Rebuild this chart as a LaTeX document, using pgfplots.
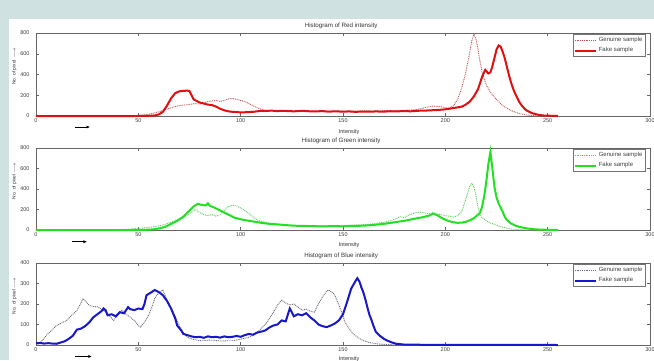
\documentclass[border=0pt]{standalone}
\usepackage{pgfplots}
\pgfplotsset{compat=1.18}
\usepackage{fontspec}
\setmainfont{Liberation Sans}
\usetikzlibrary{arrows.meta}
\definecolor{bgteal}{HTML}{D0E1E1}
\definecolor{redF}{HTML}{E01010}
\definecolor{redG}{HTML}{C05858}
\definecolor{greenF}{HTML}{22E022}
\definecolor{greenG}{HTML}{60CC60}
\definecolor{blueF}{HTML}{1818C8}
\definecolor{blueG}{HTML}{6A6A7C}
\pgfplotsset{
  hist/.style={
    scale only axis, width=614pt, clip=false,
    xmin=0, xmax=300, xtick={0,50,...,300},
    tick align=inside, tick pos=both,
    major tick length=3pt,
    axis line style={black!60}, every tick/.style={black!60},
    xticklabel pos=lower, yticklabel pos=left,
    /pgf/number format/assume math mode=true,
    ticklabel style={font=\fontsize{5.5}{5.5}\selectfont, text=black!75},
    yticklabel style={xshift=-3pt},
    xticklabel style={yshift=1pt},
    title style={at={(axis description cs:0.497,1)}, anchor=south, yshift=-5pt, font=\fontsize{6.2}{6.2}\selectfont, text=black!80},
    xlabel={Intensity},
    xlabel style={at={(axis description cs:0.51,-0.115)}, anchor=north, font=\fontsize{5.5}{5.5}\selectfont, text=black!80},
    ylabel={No. of pixel $\longrightarrow$},
    ylabel style={at={(axis description cs:-0.035,0.6)}, anchor=center, font=\fontsize{4.8}{5}\selectfont, text=black!80},
    legend style={at={(rel axis cs:0.993,0.985)}, anchor=north east,
      font=\fontsize{6}{6.5}\selectfont, draw=black!55, inner sep=1pt,
      row sep=0.3pt, text=black!75},
    legend cell align=left,
    legend image code/.code={\draw[##1] (0pt,0pt) -- (21pt,0pt);},
    gen/.style={line width=0.9pt, dash pattern=on 0.9pt off 0.9pt},
    fak/.style={line width=2pt},
  }
}
\begin{document}
\begin{tikzpicture}[x=1pt,y=1pt]
\useasboundingbox (0,0) rectangle (654,360);
\fill[bgteal] (0,0) rectangle (654,360);
\fill[white] (9,0) rectangle (654,341);

% ---------- RED ----------
\begin{axis}[hist, at={(36pt,244pt)}, anchor=south west, height=83pt,
  ymin=0, ymax=800, ytick={0,200,...,800},
  title={Histogram of Red intensity}]
\addplot[redG, gen] coordinates {
(0,0)(45,0)(50,5)(53,10)(56,20)(60,40)(63,60)(66,80)(70,100)(74,110)(78,120)(80,115)(82,125)(84,140)(86,145)(88,150)(90,140)(92,150)(94,165)(96,170)(98,160)(100,150)(102,140)(104,120)(106,100)(108,80)(110,65)(112,55)(115,50)(118,45)(122,48)(126,45)(130,48)(135,45)(140,47)(145,45)(150,48)(155,46)(160,50)(165,48)(170,52)(175,50)(180,55)(185,60)(188,70)(191,85)(194,95)(197,92)(200,80)(202,75)(204,100)(206,160)(208,270)(210,420)(212,620)(213,730)(214,790)(215,740)(216,640)(217,520)(218,420)(220,300)(222,230)(224,180)(226,140)(228,100)(230,75)(232,55)(234,38)(236,25)(238,15)(240,8)(243,4)(246,1)(250,0)(255,0)};
\addlegendentry{Genuine sample}
\addplot[redF, fak] coordinates {
(0,0)(50,0)(55,2)(58,5)(60,15)(62,40)(64,100)(66,170)(68,220)(70,238)(72,242)(74,245)(75,240)(76,200)(77,160)(78,150)(80,130)(82,120)(84,110)(86,105)(88,90)(90,70)(92,55)(94,45)(96,40)(98,38)(100,35)(102,36)(104,38)(106,40)(108,45)(110,50)(112,48)(115,52)(118,47)(120,50)(123,48)(126,45)(130,50)(133,46)(136,44)(140,47)(143,42)(146,45)(150,42)(153,44)(156,40)(160,43)(163,41)(166,44)(170,42)(173,46)(176,44)(180,48)(183,45)(186,50)(190,52)(193,55)(196,58)(199,62)(202,70)(205,80)(208,90)(210,110)(212,140)(214,190)(216,260)(218,380)(219.5,445)(221,410)(222,420)(223,480)(224,560)(225,640)(226,680)(227,670)(228,620)(229,560)(230,480)(231,400)(232,330)(233,270)(234,220)(235,180)(236,140)(237,110)(238,85)(239,65)(240,50)(242,30)(244,18)(246,10)(248,5)(250,3)(255,1)};
\addlegendentry{Fake sample}
\draw[-{Latex[length=3.5pt,width=3pt]}, black, line width=0.6pt] (axis description cs:0.063,-0.133) -- (axis description cs:0.088,-0.133);
\end{axis}

% ---------- GREEN ----------
\begin{axis}[hist, at={(36pt,130pt)}, anchor=south west, height=82pt,
  ymin=0, ymax=800, ytick={0,200,...,800},
  title={Histogram of Green intensity}]
\addplot[greenG, gen] coordinates {
(0,0)(35,0)(40,3)(45,8)(50,15)(55,25)(60,40)(63,55)(66,75)(69,100)(72,120)(75,160)(77,190)(78,200)(80,170)(82,150)(84,140)(86,150)(88,135)(90,150)(92,190)(94,230)(96,240)(98,235)(100,215)(102,190)(104,160)(106,130)(108,100)(110,85)(113,70)(116,60)(120,50)(125,45)(130,42)(135,40)(140,42)(145,40)(150,45)(155,48)(160,52)(165,60)(170,75)(173,90)(176,110)(178,130)(180,120)(182,145)(184,160)(186,170)(188,175)(190,165)(192,160)(194,170)(196,155)(198,150)(200,140)(202,135)(204,125)(206,140)(208,180)(210,300)(212,430)(213,455)(214,420)(215,330)(216,220)(217,150)(218,120)(220,90)(222,70)(224,55)(226,40)(228,28)(230,18)(232,10)(234,5)(236,2)(240,0)(255,0)};
\addlegendentry{Genuine sample}
\addplot[greenF, fak] coordinates {
(0,0)(50,0)(55,3)(58,8)(60,15)(63,30)(66,60)(69,90)(72,130)(75,190)(77,230)(79,255)(81,245)(83,240)(84,260)(85,235)(87,220)(89,200)(91,180)(93,160)(95,140)(97,120)(99,110)(101,100)(104,90)(107,80)(110,70)(114,60)(118,55)(122,48)(126,42)(130,40)(135,38)(140,35)(145,38)(150,36)(155,40)(160,42)(165,50)(170,60)(175,75)(180,90)(185,110)(189,125)(192,140)(194,160)(196,145)(198,120)(200,100)(202,85)(204,75)(206,70)(208,72)(210,80)(212,95)(214,115)(216,150)(217,170)(218,230)(219,330)(220,470)(221,640)(222,760)(223,600)(224,420)(225,320)(226,260)(227,220)(228,180)(229,130)(230,100)(232,65)(234,45)(236,32)(238,22)(240,15)(243,8)(246,4)(250,2)(255,0)};
\addlegendentry{Fake sample}
\draw[-{Latex[length=3.5pt,width=3pt]}, black, line width=0.6pt] (axis description cs:0.059,-0.143) -- (axis description cs:0.083,-0.143);
\end{axis}

% ---------- BLUE ----------
\begin{axis}[hist, at={(36pt,15pt)}, anchor=south west, height=82pt,
  ymin=0, ymax=400, ytick={0,100,...,400},
  xlabel style={at={(axis description cs:0.51,-0.095)}},
  title={Histogram of Blue intensity}]
\addplot[blueG, gen] coordinates {
(0,0)(2,10)(5,46)(8,75)(10,95)(13,110)(15,120)(18,150)(20,169)(22,205)(23,227)(25,205)(26,194)(28,188)(30,186)(32,175)(34,161)(36,140)(38,120)(40,150)(42,169)(44,150)(46,136)(48,120)(50,95)(51,87)(53,110)(55,145)(57,195)(58,227)(60,255)(62,268)(64,220)(66,178)(68,140)(70,95)(72,60)(74,38)(76,30)(80,21)(85,24)(90,20)(96,21)(100,28)(104,38)(106,46)(110,80)(113,112)(116,160)(118,195)(120,219)(122,205)(124,195)(126,200)(128,185)(130,169)(132,175)(134,165)(136,160)(138,200)(140,235)(142,262)(143,268)(145,255)(146,243)(148,195)(149,170)(151,112)(153,80)(155,54)(158,32)(160,21)(163,12)(167,5)(170,3)(175,1)(180,0)(255,0)};
\addlegendentry{Genuine sample}
\addplot[blueF, fak] coordinates {
(0,8)(2,10)(4,7)(6,9)(8,7)(10,6)(12,12)(14,18)(16,30)(18,45)(20,75)(22,80)(24,92)(26,110)(28,135)(30,150)(32,165)(33,178)(34,170)(35,145)(37,150)(39,140)(41,160)(43,155)(45,185)(46,175)(48,170)(50,178)(52,175)(53,200)(54,243)(56,255)(58,268)(60,258)(62,243)(64,215)(66,178)(68,130)(69,95)(71,70)(72,54)(74,48)(76,42)(78,38)(80,40)(82,35)(84,42)(86,38)(88,40)(90,36)(92,42)(94,38)(96,40)(98,44)(100,40)(102,48)(104,54)(106,50)(108,60)(110,65)(112,71)(114,85)(116,95)(118,100)(120,120)(122,115)(124,178)(125,160)(126,140)(128,150)(130,145)(132,155)(134,135)(136,120)(138,100)(140,92)(142,87)(144,95)(146,105)(148,120)(150,150)(152,210)(154,275)(156,310)(157,326)(158,310)(159,280)(160,255)(161,220)(162,180)(163,145)(164,120)(165,90)(166,65)(168,45)(170,30)(172,20)(174,12)(176,6)(178,4)(180,2)(190,1)(200,1)(255,0)};
\addlegendentry{Fake sample}
\draw[-{Latex[length=3.5pt,width=3pt]}, black, line width=0.6pt] (axis description cs:0.063,-0.14) -- (axis description cs:0.091,-0.14);
\end{axis}
\end{tikzpicture}
\end{document}
